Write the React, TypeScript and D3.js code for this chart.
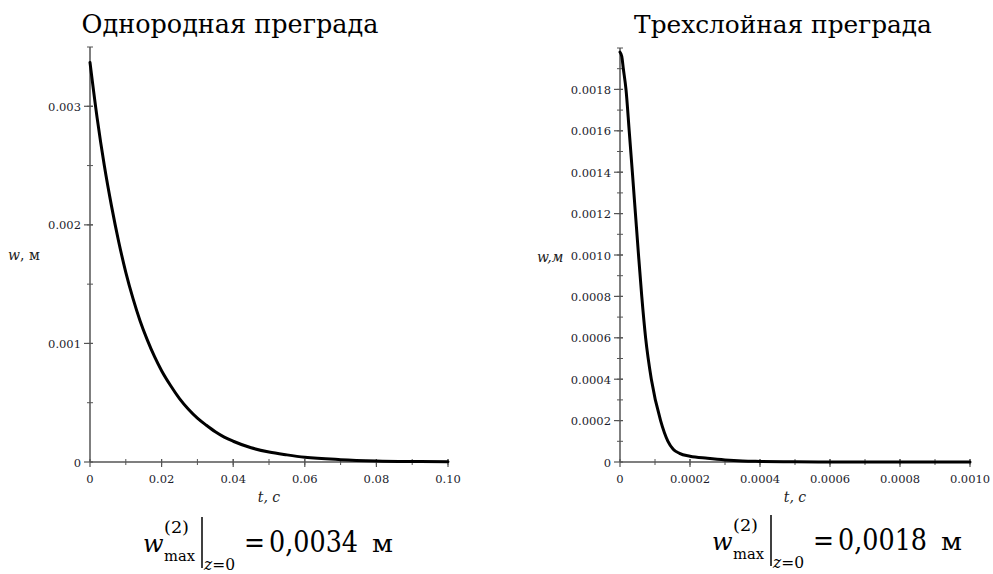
import React from "react";
import * as d3 from "d3";

// ---- data ----
const homoT = [0, 0.002, 0.004, 0.006, 0.008, 0.01, 0.012, 0.014, 0.016, 0.018, 0.02, 0.0225, 0.025, 0.0275, 0.03, 0.0325, 0.035, 0.0375, 0.04, 0.045, 0.05, 0.055, 0.06, 0.07, 0.08, 0.09, 0.1];
const homoW = [0.00337, 0.0029, 0.0025, 0.00216, 0.00186, 0.0016, 0.00138, 0.00119, 0.00103, 0.00089, 0.00077, 0.000645, 0.000535, 0.000445, 0.00037, 0.00031, 0.000255, 0.00021, 0.000175, 0.00012, 0.000084, 0.00006, 0.00004, 0.00002, 0.0000094, 0.0000045, 0.000002];

const triT = [0, 0.000005, 0.0000095, 0.0000171, 0.0000263, 0.0000353, 0.0000441, 0.0000529, 0.0000622, 0.0000732, 0.0000895, 0.000116, 0.000137, 0.000152, 0.00017, 0.0002, 0.00025, 0.0003, 0.00035, 0.0004, 0.0005, 0.0006, 0.0008, 0.001];
const triW = [0.00198, 0.00196, 0.0019, 0.0018, 0.0016, 0.0014, 0.0012, 0.001, 0.0008, 0.0006, 0.0004, 0.0002, 0.0001, 0.000062, 0.000042, 0.000028, 0.000018, 0.00001, 0.000005, 0.000003, 0.000001, 0, 0, 0];

const homoYTicks = [0, 0.001, 0.002, 0.003];
const homoYLabels = ["0", "0.001", "0.002", "0.003"];
const homoXTicks = [0, 0.02, 0.04, 0.06, 0.08, 0.1];
const homoXLabels = ["0", "0.02", "0.04", "0.06", "0.08", "0.10"];

const triYTicks = [0, 0.0002, 0.0004, 0.0006, 0.0008, 0.001, 0.0012, 0.0014, 0.0016, 0.0018];
const triYLabels = ["0", "0.0002", "0.0004", "0.0006", "0.0008", "0.0010", "0.0012", "0.0014", "0.0016", "0.0018"];
const triXTicks = [0, 0.0002, 0.0004, 0.0006, 0.0008, 0.001];
const triXLabels = ["0", "0.0002", "0.0004", "0.0006", "0.0008", "0.0010"];

const titles = ["Однородная преграда", "Трехслойная преграда"];
const maxValues = ["0,0034", "0,0018"];

const SERIF = "DejaVu Serif";
const AXIS = "#555";
const TICKTXT = "#1c1c2c";
const serifStyle = { fontFamily: SERIF };

type PanelProps = {
  t: number[];
  w: number[];
  xDomain: [number, number];
  yDomain: [number, number];
  xRange: [number, number];
  yRange: [number, number];
  xTicks: number[];
  xLabels: string[];
  yTicks: number[];
  yLabels: string[];
  xMinorStep: number;
  yMinorStep: number;
};

function Panel(p: PanelProps) {
  const x = d3.scaleLinear().domain(p.xDomain).range(p.xRange);
  const y = d3.scaleLinear().domain(p.yDomain).range(p.yRange);
  const pts = p.t.map((tv, i) => [tv, p.w[i]] as [number, number]);
  const line = d3
    .line<[number, number]>()
    .x((d) => x(d[0]))
    .y((d) => y(d[1]))
    .curve(d3.curveMonotoneX);
  const x0 = x(p.xDomain[0]);
  const y0 = y(p.yDomain[0]);
  const nX = Math.round((p.xDomain[1] - p.xDomain[0]) / p.xMinorStep);
  const nY = Math.round((p.yDomain[1] - p.yDomain[0]) / p.yMinorStep);
  const xMinor = d3.range(1, nX + 1).map((i) => p.xDomain[0] + i * p.xMinorStep);
  const yMinor = d3.range(1, nY + 1).map((i) => p.yDomain[0] + i * p.yMinorStep);
  return (
    <g>
      {xMinor.map((v, i) => (
        <line key={"xm" + i} x1={x(v)} x2={x(v)} y1={y0 - 3} y2={y0 + 3} stroke={AXIS} strokeWidth={1} />
      ))}
      {yMinor.map((v, i) => (
        <line key={"ym" + i} x1={x0 - 3} x2={x0 + 3} y1={y(v)} y2={y(v)} stroke={AXIS} strokeWidth={1} />
      ))}
      {p.xTicks.map((v, i) => (
        <g key={"xt" + i}>
          <line x1={x(v)} x2={x(v)} y1={y0 - 3} y2={y0 + 5} stroke={AXIS} strokeWidth={1.2} />
          <text x={x(v)} y={483} textAnchor="middle" style={serifStyle} fontSize={11.5} fill={TICKTXT}>
            {p.xLabels[i]}
          </text>
        </g>
      ))}
      {p.yTicks.map((v, i) => (
        <g key={"yt" + i}>
          <line x1={x0 - 6} x2={x0 + 3} y1={y(v)} y2={y(v)} stroke={AXIS} strokeWidth={1.2} />
          <text x={x0 - 9} y={y(v) + 4.5} textAnchor="end" style={serifStyle} fontSize={11.5} fill={TICKTXT}>
            {p.yLabels[i]}
          </text>
        </g>
      ))}
      <line x1={x0} x2={x(p.xDomain[1])} y1={y0} y2={y0} stroke={AXIS} strokeWidth={1.5} />
      <line x1={x0} x2={x0} y1={y0} y2={y(p.yDomain[1])} stroke={AXIS} strokeWidth={1.5} />
      <path d={line(pts) || ""} fill="none" stroke="#000" strokeWidth={3} strokeLinejoin="round" strokeLinecap="round" />
    </g>
  );
}

function Formula({ x, y, value }: { x: number; y: number; value: string }) {
  return (
    <g style={serifStyle} fill="#000">
      <text x={x} y={y} fontSize={24} fontStyle="italic">w</text>
      <text x={x + 21} y={y - 19} fontSize={16} textLength={25} lengthAdjust="spacingAndGlyphs">(2)</text>
      <text x={x + 21} y={y + 9} fontSize={14} textLength={31} lengthAdjust="spacingAndGlyphs">max</text>
      <line x1={x + 59} x2={x + 59} y1={y - 35} y2={y + 16} stroke="#000" strokeWidth={1.5} />
      <text x={x + 61} y={y + 18} fontSize={17} textLength={31} lengthAdjust="spacingAndGlyphs">
        <tspan fontStyle="italic">z</tspan>=0
      </text>
      <text x={x + 101} y={y} fontSize={28} textLength={21} lengthAdjust="spacingAndGlyphs">=</text>
      <text x={x + 126} y={y} fontSize={29} textLength={89} lengthAdjust="spacingAndGlyphs">{value}</text>
      <text x={x + 229} y={y} fontSize={24} textLength={21} lengthAdjust="spacingAndGlyphs">м</text>
    </g>
  );
}

export default function App() {
  return (
    <svg
      width={993}
      height={574}
      style={{ position: "absolute", left: 0, top: 0, background: "#fff" }}
    >
      <rect x={0} y={0} width={993} height={574} fill="#fff" />
      <text x={230} y={33} textAnchor="middle" style={serifStyle} fontSize={25.5} fill="#000">
        {titles[0]}
      </text>
      <text x={783} y={33} textAnchor="middle" style={serifStyle} fontSize={24.8} fill="#000">
        {titles[1]}
      </text>

      <Panel
        t={homoT}
        w={homoW}
        xDomain={[0, 0.1]}
        yDomain={[0, 0.0035]}
        xRange={[90, 448]}
        yRange={[462, 47]}
        xTicks={homoXTicks}
        xLabels={homoXLabels}
        yTicks={homoYTicks}
        yLabels={homoYLabels}
        xMinorStep={0.01}
        yMinorStep={0.0005}
      />
      <Panel
        t={triT}
        w={triW}
        xDomain={[0, 0.001]}
        yDomain={[0, 0.002]}
        xRange={[620, 970]}
        yRange={[462, 48]}
        xTicks={triXTicks}
        xLabels={triXLabels}
        yTicks={triYTicks}
        yLabels={triYLabels}
        xMinorStep={0.0001}
        yMinorStep={0.0001}
      />

      {/* axis labels */}
      <text x={8} y={260} style={serifStyle} fontSize={14} fill="#222">
        <tspan fontStyle="italic">w</tspan>
        <tspan>, м</tspan>
      </text>
      <text x={269} y={502} textAnchor="middle" style={serifStyle} fontSize={14} fontStyle="italic" fill="#222">
        t, c
      </text>
      <text x={537} y={262} style={serifStyle} fontSize={14} fontStyle="italic" fill="#222">
        w,м
      </text>
      <text x={795} y={502} textAnchor="middle" style={serifStyle} fontSize={14} fontStyle="italic" fill="#222">
        t, c
      </text>

      <Formula x={143} y={552} value={maxValues[0]} />
      <Formula x={712} y={550} value={maxValues[1]} />
    </svg>
  );
}
